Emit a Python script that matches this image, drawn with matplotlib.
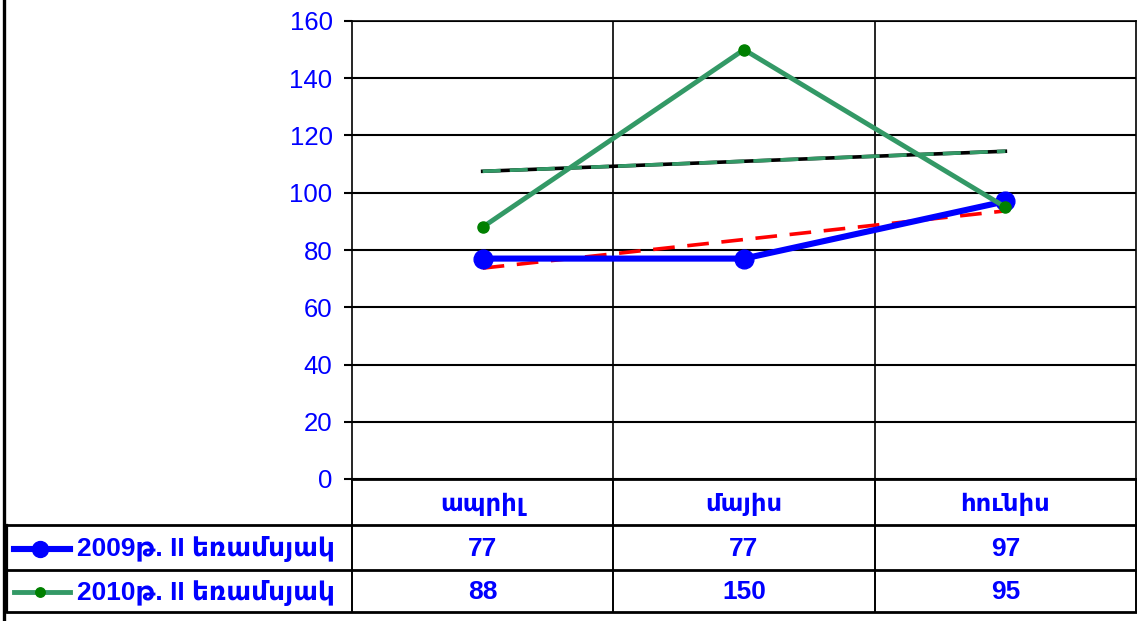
import matplotlib.pyplot as plt
import numpy as np

plt.rcParams['font.family'] = ['Liberation Sans', 'DejaVu Sans']

# data
months = ['ապրիլ', 'մայիս', 'հունիս']
series_names = ['2009թ. II եռամսյակ', '2010թ. II եռամսյակ']
vals_2009 = [77, 77, 97]
vals_2010 = [88, 150, 95]
yticks = [0, 20, 40, 60, 80, 100, 120, 140, 160]

W, H = 1137, 621
fig = plt.figure(figsize=(W / 100, H / 100), dpi=100)

# pixel frame of the plot area
L, R, T, B = 352, 1136, 21, 479
ax = fig.add_axes([L / W, 1 - B / H, (R - L) / W, (B - T) / H])

xs = np.arange(len(months)) + 0.5
blue = '#0000FF'
sea = '#339966'

# grid
for y in yticks:
    ax.axhline(y, color='black', lw=1.5, zorder=1)
for x in range(1, len(months)):
    ax.axvline(x, color='black', lw=1.2, zorder=1)

# trend lines (linear fits of each series)
idx = np.arange(1, len(months) + 1)
p09 = np.polyfit(idx, vals_2009, 1)
p10 = np.polyfit(idx, vals_2010, 1)
ax.plot(xs, np.polyval(p09, idx), color='red', lw=2.6, dashes=(6, 3.5), zorder=3)
ax.plot(xs, np.polyval(p10, idx), color='black', lw=2.6, zorder=3)
ax.plot(xs, np.polyval(p10, idx), color=sea, lw=2.6, dashes=(5, 2.5), zorder=3)

# series
ax.plot(xs, vals_2010, color=sea, lw=3.5, marker='o', ms=8,
        mfc='#008000', mec='#008000', zorder=5)
ax.plot(xs, vals_2009, color=blue, lw=4.4, marker='o', ms=13.5,
        mfc=blue, mec=blue, zorder=4)

ax.set_xlim(0, len(months))
ax.set_ylim(0, 160)
ax.set_yticks(yticks)
ax.set_xticks([])
ax.tick_params(axis='y', length=6, width=1.5, colors='black', labelcolor=blue,
               labelsize=18.5, pad=8)
for s in ax.spines.values():
    s.set_color('black')
    s.set_linewidth(1.2)
ax.spines['bottom'].set_visible(False)

# data table drawn on an overlay in pixel units
ov = fig.add_axes([0, 0, 1, 1], zorder=-1)
ov.set_xlim(0, W)
ov.set_ylim(H, 0)
ov.axis('off')

cw = (R - L) / len(months)
rows = [525, 570, 612]
ov.plot([4, 4], [0, H], color='black', lw=2.4)
ov.plot([7, 7], [rows[0], rows[-1]], color='black', lw=1.6)
for y in [B] + rows:
    x0 = L if y == B else 7
    ov.plot([x0, R], [y, y], color='black', lw=2.0)
for i in range(len(months) + 1):
    ov.plot([L + i * cw, L + i * cw], [B, rows[-1]], color='black', lw=1.4)

for i, m in enumerate(months):
    ov.text(L + (i + 0.5) * cw, (B + rows[0]) / 2 + 2, m, color=blue,
            fontsize=17.5, fontweight='bold', ha='center', va='center')

styles = [dict(color=blue, lw=4.4, ms=13.5, mc=blue),
          dict(color=sea, lw=3.5, ms=8, mc='#008000')]
for r, (name, vals, st) in enumerate(zip(series_names, [vals_2009, vals_2010], styles)):
    yc = (rows[r] + rows[r + 1]) / 2 + 1
    ov.plot([14, 70], [yc, yc], color=st['color'], lw=st['lw'])
    ov.plot([40], [yc], marker='o', ms=st['ms'] * 0.85, color=st['mc'])
    ov.text(77, yc, name, color=blue, fontsize=19, fontweight='bold',
            ha='left', va='center')
    for i, v in enumerate(vals):
        ov.text(L + (i + 0.5) * cw, yc, str(v), color=blue, fontsize=19,
                fontweight='bold', ha='center', va='center')

fig.savefig('out.png', dpi=100)
